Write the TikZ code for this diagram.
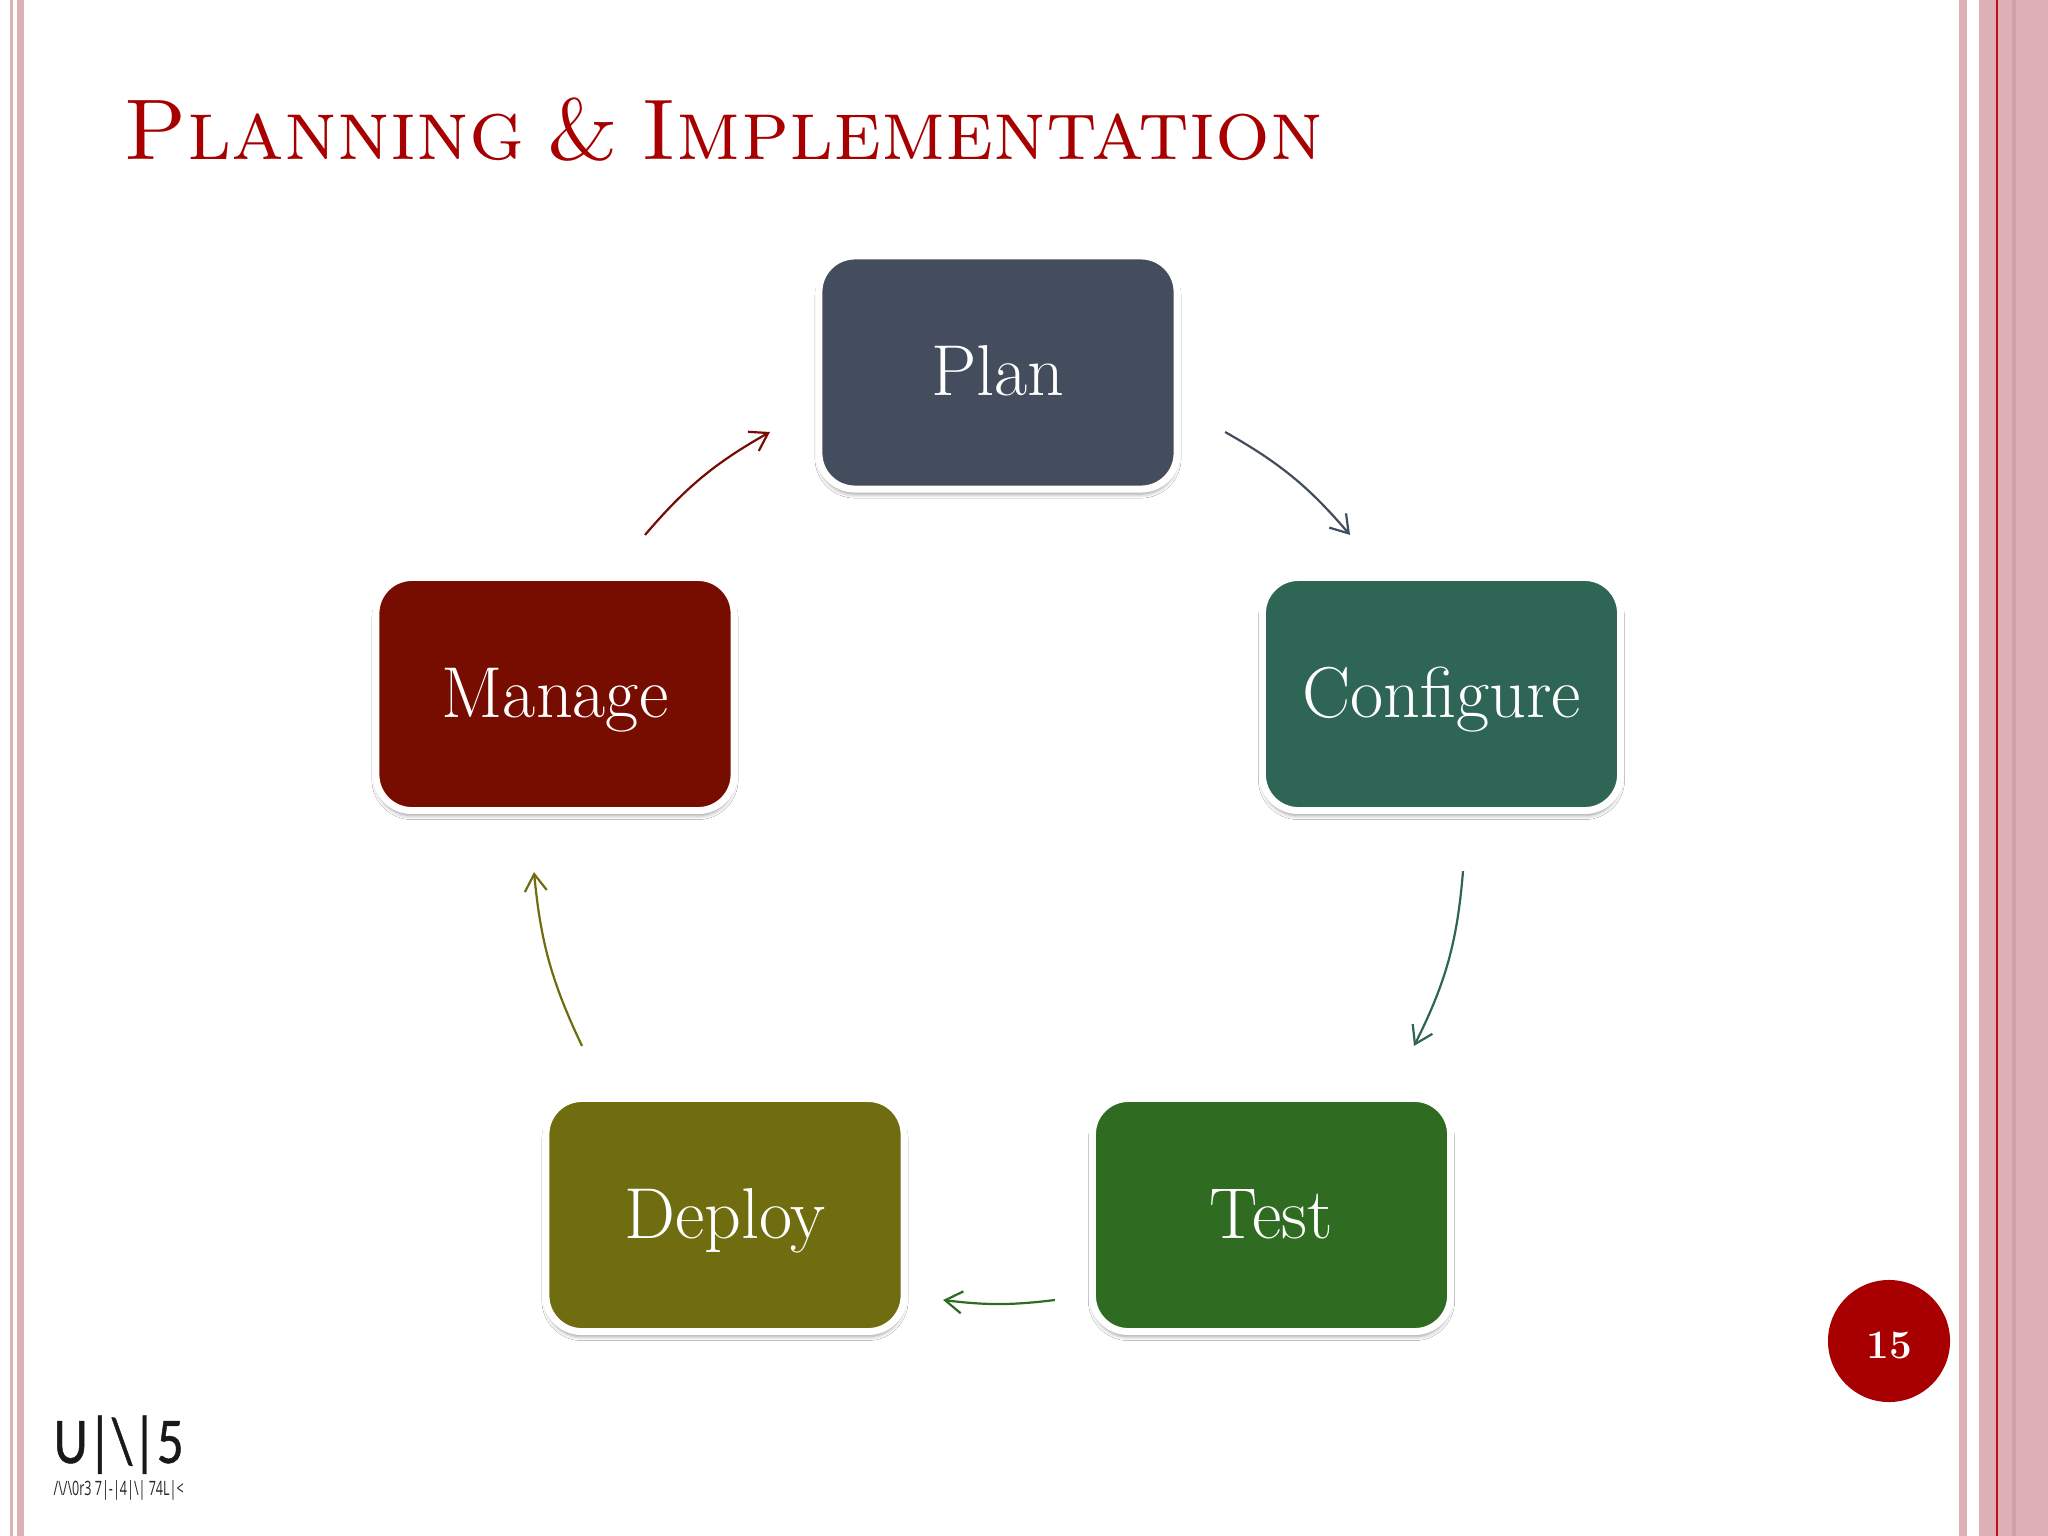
\documentclass[tikz,border=0pt]{standalone}
\usepackage{fontspec}
\usepackage{graphicx}
\usetikzlibrary{arrows.meta,shadows.blur}
\newfontfamily\logofont{Open Sans}
\newfontfamily\logobigfont[FakeBold=0.8]{Carlito}
\definecolor{stripepink}{HTML}{DCB0B5}
\definecolor{stripedark}{HTML}{CFA0A5}
\definecolor{stripered}{HTML}{B80F14}
\definecolor{titlered}{HTML}{A80000}
\definecolor{planblue}{HTML}{434D5E}
\definecolor{configgreen}{HTML}{2F6555}
\definecolor{testgreen}{HTML}{2F6B21}
\definecolor{deployolive}{HTML}{6F6D10}
\definecolor{managered}{HTML}{770C00}
\begin{document}
\begin{tikzpicture}[x=0.01cm, y=-0.01cm,
    stagebox/.style={rectangle, rounded corners=0.36cm, draw=white, line width=0.07cm,
      minimum width=3.58cm, minimum height=2.33cm, text=white, font=\fontsize{20.5}{24}\selectfont\addfontfeature{FakeBold=0.4},
      text height=0.46cm, text depth=0pt, inner sep=0pt,
      blur shadow={shadow xshift=0pt, shadow yshift=-0.05cm, shadow blur radius=0.04cm, shadow opacity=40}},
    cyclearrow/.style={line width=0.022cm, -{Straight Barb[length=0.17cm, width=0.22cm]}}]
    \useasboundingbox (0,0) rectangle (2048,1536);
    \fill[white] (0,0) rectangle (2048,1536);
    \fill[stripepink] (10,0) rectangle (13,1536);
    \fill[stripepink] (17,0) rectangle (24,1536);
    \fill[stripepink] (1959,0) rectangle (1967,1536);
    \fill[stripepink] (1979,0) rectangle (2048,1536);
    \fill[stripedark] (2012,0) rectangle (2016,1536);
    \fill[stripered] (1995.5,0) rectangle (1998,1536);
    \node[anchor=base west, inner sep=0pt, text=titlered, font=\fontsize{24.5}{30}\selectfont\addfontfeature{FakeBold=0.6}] (title) at (123,159) {\spaceskip=0.26em\textsc{Planning \& Implementation}};
    \node[stagebox, fill=planblue] (plan) at (998,372.5) {Plan};
    \node[stagebox, fill=configgreen] (configure) at (1441.5,694) {Configure};
    \node[stagebox, fill=testgreen] (test) at (1271.5,1215) {Test};
    \node[stagebox, fill=deployolive] (deploy) at (725,1215) {Deploy};
    \node[stagebox, fill=managered] (manage) at (555,694) {Manage};
    \draw[cyclearrow, planblue] ([shift={(44.5,59.5)}]plan.east) to[bend left=10] ([shift={(-91.5,-39)}]configure.north);
    \draw[cyclearrow, configgreen] ([shift={(21.5,57)}]configure.south) to[bend left=11] ([shift={(142.5,-49)}]test.north);
    \draw[cyclearrow, testgreen] ([shift={(-34,85)}]test.west) to[bend left=7] ([shift={(35.5,85)}]deploy.east);
    \draw[cyclearrow, deployolive] ([shift={(-143,-49)}]deploy.north) to[bend left=10] ([shift={(-21,58)}]manage.south);
    \draw[cyclearrow, managered] ([shift={(90,-39)}]manage.north) to[bend left=10] ([shift={(-45.5,59.5)}]plan.west);
    \node[circle, fill=titlered, minimum size=1.22cm, inner sep=0pt, text=white, font=\fontsize{11.5}{14}\selectfont\bfseries, text height=0.34cm, text depth=0pt] (pagenum) at (1889,1341) {15};
    \node[anchor=north west, inner sep=0pt, text=black!90] (logotop) at (53,1415) {\resizebox{1.30cm}{\height}{\logobigfont\fontsize{18.6}{22}\selectfont U|\textbackslash|5}};
    \node[anchor=north west, inner sep=0pt, text=black!85] (logosub) at (53,1480) {\resizebox{1.30cm}{0.15cm}{\logofont /\textbackslash/\textbackslash0r3 7|-|4|\textbackslash| 74L|<}};
\end{tikzpicture}
\end{document}
